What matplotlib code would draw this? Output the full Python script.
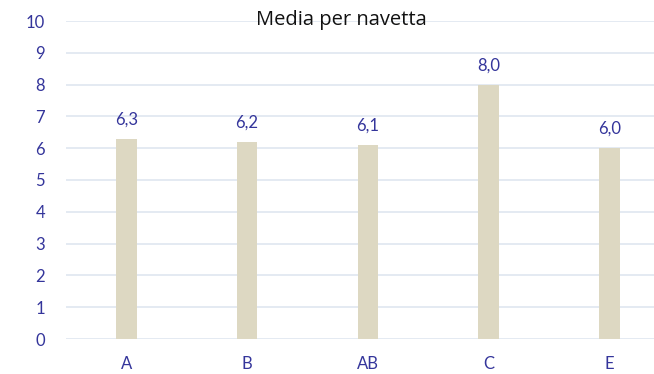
import matplotlib
matplotlib.use('Agg')
import matplotlib.pyplot as pl
import numpy as np

categories = ['A', 'B', 'AB', 'C', 'E']
medie = [6.3, 6.2, 6.1, 8.0, 6.0]

label_color = '#34359b'
bar_color = '#ddd8c2'
grid_color = '#dde4ef'


def main():
    pl.rcParams['font.family'] = ['Lato', 'DejaVu Sans']

    fig = pl.figure(figsize=(6.54, 3.74), dpi=100)
    ax = fig.add_axes([66 / 654, 35 / 374, 1 - 66 / 654, 318 / 374])

    x = np.arange(len(categories))
    ax.bar(x, medie, width=0.17, color=bar_color, zorder=3)

    for xi, val in zip(x, medie):
        label = '{:.1f}'.format(val).replace('.', ',')
        ax.annotate(label, (xi, val), xytext=(0, 8), textcoords='offset points',
                    ha='center', va='bottom', fontsize=12, color=label_color)

    ax.set_ylim(0, 10)
    ax.set_xlim(-0.5, 4.37)
    ax.set_yticks(np.arange(0, 11, 1))
    ax.set_xticks(x)
    ax.set_xticklabels(categories)
    ax.tick_params(axis='both', length=0, labelsize=12, labelcolor=label_color)
    ax.tick_params(axis='y', pad=15)
    ax.tick_params(axis='x', pad=12)

    ax.grid(True, axis='y', color=grid_color, linewidth=1.1, zorder=0)
    for spine in ax.spines.values():
        spine.set_visible(False)

    fig.text(341 / 654, 1 - 20 / 374, 'Media per navetta', ha='center', va='center',
             fontsize=14.5, color='#111111', family=['Open Sans', 'DejaVu Sans'])

    fig.savefig('out.png', dpi=100)


if __name__ == '__main__':
    main()
